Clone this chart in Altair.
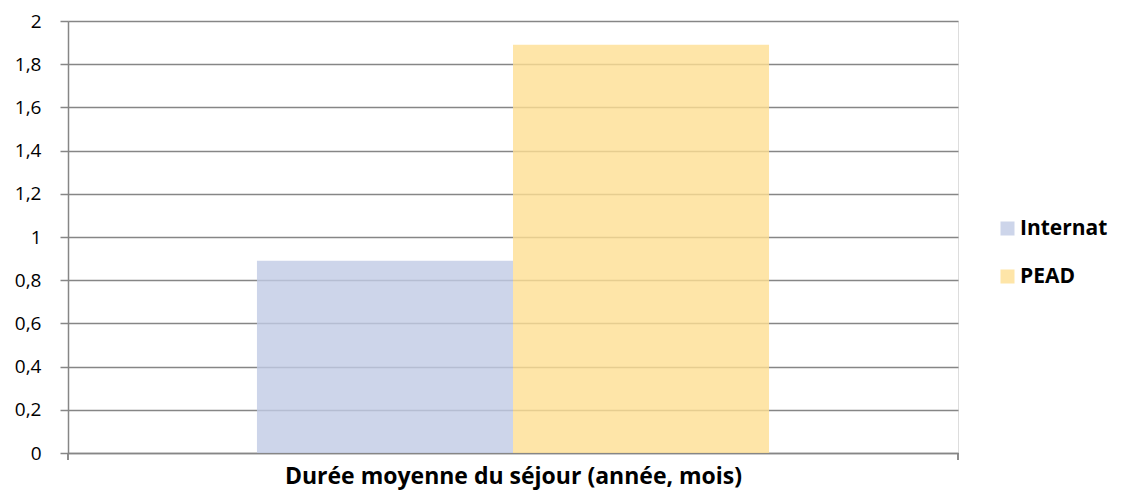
import altair as alt
import pandas as pd

# --- data ---
series = ["Internat", "PEAD"]
values = [0.89, 1.89]
colors = ["#c1cbe5", "#fedf92"]
y_ticks = [0, 0.2, 0.4, 0.6, 0.8, 1.0, 1.2, 1.4, 1.6, 1.8, 2.0]
category = "Durée moyenne du séjour (année, mois)"

df = pd.DataFrame({"serie": series, "valeur": values})

W, H = 890, 432
GRAY = "#868686"
FONT = "Open Sans"

bars = alt.Chart(df).mark_bar(opacity=0.8).encode(
    x=alt.X(
        "serie:N",
        sort=series,
        scale=alt.Scale(paddingInner=0, paddingOuter=0.738),
        axis=alt.Axis(
            title=category,
            labels=False,
            ticks=False,
            domainColor=GRAY,
            domainWidth=1.5,
            titleFont=FONT,
            titleFontSize=23,
            titleFontWeight="bold",
            titleColor="#000000",
            titlePadding=12,
        ),
    ),
    y=alt.Y(
        "valeur:Q",
        scale=alt.Scale(domain=[0, 2], nice=False),
        axis=alt.Axis(
            title=None,
            values=y_ticks,
            labelExpr="replace(format(datum.value, '.1~f'), '.', ',')",
            grid=True,
            gridColor=GRAY,
            gridWidth=1.5,
            domainColor=GRAY,
            domainWidth=1.5,
            tickColor=GRAY,
            tickWidth=1.5,
            tickSize=8,
            labelPadding=19,
            labelFont=FONT,
            labelFontSize=19,
            labelColor="#000000",
        ),
    ),
    color=alt.Color(
        "serie:N",
        scale=alt.Scale(domain=series, range=colors),
        legend=alt.Legend(
            title=None,
            orient="none",
            legendX=929,
            legendY=197,
            padding=0,
            symbolType="square",
            symbolSize=196,
            symbolStrokeWidth=0,
            labelFont=FONT,
            labelFontSize=21,
            labelFontWeight="bold",
            labelColor="#000000",
            labelOffset=2,
            rowPadding=26,
        ),
    ),
)

tick_left = alt.Chart(df).mark_rule(color=GRAY, strokeWidth=1.5).encode(
    x=alt.value(0), y=alt.value(H), y2=alt.value(H + 7)
)
tick_right = alt.Chart(df).mark_rule(color=GRAY, strokeWidth=1.5).encode(
    x=alt.value(W), y=alt.value(H), y2=alt.value(H + 7)
)

chart = (
    alt.layer(bars, tick_left, tick_right)
    .properties(
        width=W,
        height=H,
        autosize=alt.AutoSizeParams(type="none"),
        padding={"left": 60, "top": 13, "right": 156, "bottom": 40},
    )
    .configure_view(stroke=None)
    .configure(background="#ffffff")
)

chart.save("out.html", embed_options={"renderer": "svg", "actions": False})
